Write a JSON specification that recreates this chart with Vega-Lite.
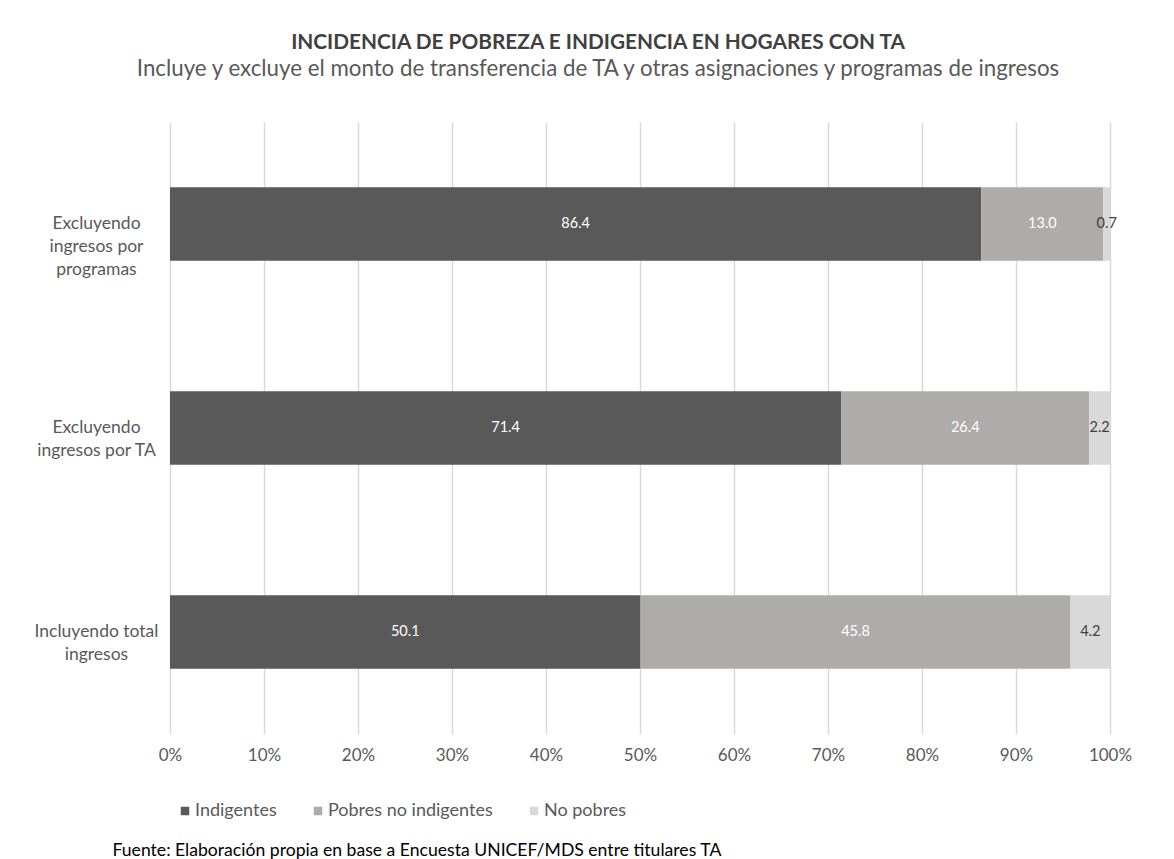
{
  "$schema": "https://vega.github.io/schema/vega-lite/v6.json",
  "width": 940,
  "height": 612,
  "autosize": {"type": "none"},
  "padding": {"left": 170, "top": 122, "right": 64, "bottom": 125},
  "background": "white",
  "title": {
    "text": "INCIDENCIA DE POBREZA E INDIGENCIA EN HOGARES CON TA",
    "subtitle": "Incluye y excluye el monto de transferencia de TA y otras asignaciones y programas de ingresos",
    "anchor": "middle",
    "dx": -42,
    "offset": 41,
    "font": "Lato",
    "fontSize": 20.8,
    "fontWeight": "bold",
    "color": "#404040",
    "subtitleFont": "Lato",
    "subtitleFontSize": 22.3,
    "subtitleColor": "#595959",
    "subtitlePadding": 4
  },
  "config": {
    "view": {"stroke": null},
    "font": "Lato"
  },
  "data": {
    "values": [
      {"grupo": "Excluyendo|ingresos por|programas", "categoria": "Indigentes", "orden": 1, "valor": 86.4},
      {"grupo": "Excluyendo|ingresos por|programas", "categoria": "Pobres no indigentes", "orden": 2, "valor": 13.0},
      {"grupo": "Excluyendo|ingresos por|programas", "categoria": "No pobres", "orden": 3, "valor": 0.7},
      {"grupo": "Excluyendo|ingresos por TA", "categoria": "Indigentes", "orden": 1, "valor": 71.4},
      {"grupo": "Excluyendo|ingresos por TA", "categoria": "Pobres no indigentes", "orden": 2, "valor": 26.4},
      {"grupo": "Excluyendo|ingresos por TA", "categoria": "No pobres", "orden": 3, "valor": 2.2},
      {"grupo": "Incluyendo total|ingresos", "categoria": "Indigentes", "orden": 1, "valor": 50.1},
      {"grupo": "Incluyendo total|ingresos", "categoria": "Pobres no indigentes", "orden": 2, "valor": 45.8},
      {"grupo": "Incluyendo total|ingresos", "categoria": "No pobres", "orden": 3, "valor": 4.2}
    ]
  },
  "transform": [
    {"stack": "valor", "groupby": ["grupo"], "sort": [{"field": "orden", "order": "ascending"}], "offset": "normalize", "as": ["x0", "x1"]},
    {"calculate": "(datum.x0 + datum.x1) / 2", "as": "xmid"}
  ],
  "encoding": {
    "y": {
      "field": "grupo",
      "type": "nominal",
      "sort": ["Excluyendo|ingresos por|programas", "Excluyendo|ingresos por TA", "Incluyendo total|ingresos"],
      "scale": {"paddingInner": 0.64, "paddingOuter": 0.32},
      "axis": {
        "title": null,
        "labelExpr": "split(datum.label, '|')",
        "labelAlign": "center",
        "labelPadding": 74,
        "labelFontSize": 17.5,
        "labelLineHeight": 23,
        "labelColor": "#595959",
        "ticks": false,
        "domain": false,
        "grid": false,
        "labelFont": "Lato"
      }
    }
  },
  "layer": [
    {
      "mark": {"type": "bar"},
      "encoding": {
        "x": {
          "field": "x0",
          "type": "quantitative",
          "scale": {"domain": [0, 1]},
          "axis": {
            "title": "Fuente: Elaboración propia en base a Encuesta UNICEF/MDS entre titulares TA",
            "titleX": -58,
            "titleY": 121,
            "titleAnchor": "start",
            "titleAlign": "left",
            "titleBaseline": "alphabetic",
            "titleFontSize": 17.6,
            "titleFontWeight": "normal",
            "titleColor": "#000000",
            "titleFont": "Lato",
            "format": ".0%",
            "values": [0, 0.1, 0.2, 0.3, 0.4, 0.5, 0.6, 0.7, 0.8, 0.9, 1],
            "labelOverlap": false,
            "labelFlush": false,
            "labelFontSize": 17,
            "labelColor": "#595959",
            "labelPadding": 13,
            "labelFont": "Lato",
            "ticks": false,
            "domain": false,
            "grid": true,
            "gridColor": "#D9D9D9",
            "gridWidth": 1.5
          }
        },
        "x2": {"field": "x1"},
        "color": {
          "field": "categoria",
          "type": "nominal",
          "sort": ["Indigentes", "Pobres no indigentes", "No pobres"],
          "scale": {
            "domain": ["Indigentes", "Pobres no indigentes", "No pobres"],
            "range": ["#595959", "#AEABAB", "#D9D9D9"]
          },
          "legend": {
            "title": null,
            "orient": "none",
            "legendX": 6,
            "legendY": 680,
            "direction": "horizontal",
            "symbolType": "square",
            "symbolSize": 72,
            "symbolStrokeWidth": 0,
            "labelFontSize": 18,
            "labelLimit": 400,
            "labelColor": "#595959",
            "labelFont": "Lato",
            "labelOffset": 1,
            "columnPadding": 32
          }
        }
      }
    },
    {
      "mark": {"type": "text", "fontSize": 14.5, "font": "Lato"},
      "encoding": {
        "x": {"field": "xmid", "type": "quantitative"},
        "text": {"field": "valor", "type": "quantitative", "format": ".1f"},
        "color": {
          "condition": {"test": "datum.categoria === 'No pobres'", "value": "#404040"},
          "value": "#FFFFFF"
        }
      }
    }
  ]
}
